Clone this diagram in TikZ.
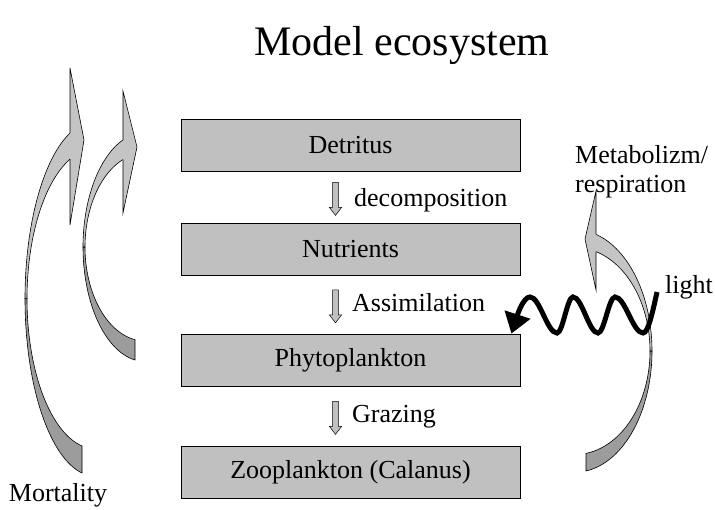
\documentclass[tikz,border=0pt]{standalone}
\usepackage{fontspec}
\setmainfont{Liberation Serif}
\usetikzlibrary{arrows.meta,shapes.arrows}
\definecolor{boxgray}{HTML}{C0C0C0}
\definecolor{bandlight}{HTML}{C4C4C4}
\definecolor{banddark}{HTML}{9C9C9C}
\tikzset{
    compartment/.style={draw=black, line width=0.8pt, fill=boxgray, minimum width=339pt, minimum height=52pt, inner sep=0pt, font=\fontsize{26}{30}\selectfont},
    flowarrow/.style={single arrow, draw=black, line width=0.5pt, fill=boxgray, rotate=-90, minimum height=33pt, inner xsep=0pt, inner ysep=2.6pt, single arrow head extend=3.2pt, single arrow tip angle=75},
    lbl/.style={font=\fontsize{26}{29}\selectfont, inner sep=0pt, anchor=west},
    lightpart/.style={fill=bandlight, draw=black, line width=0.6pt, samples=60},
    darkpart/.style={fill=banddark, draw=black, line width=0.6pt, samples=60},
    lightwave/.style={line width=5pt, -{Triangle[length=20pt,width=26pt]}}
}

\begin{document}
\begin{tikzpicture}[x=1pt,y=-1pt]
\useasboundingbox (0,0) rectangle (715,510);

\node [font=\fontsize{42}{48}\selectfont] (title) at (402,45) {Model ecosystem};

% compartments
\node [compartment] (detritus) at (350.5,145) {Detritus};
\node [compartment] (nutrients) at (350.5,249) {Nutrients};
\node [compartment] (phyto) at (350.5,360) {Phytoplankton};
\node [compartment] (zoo) at (350.5,472) {Zooplankton (Calanus)};

\path (detritus.south) -- (nutrients.north) node [pos=0.5, xshift=-15pt, flowarrow] (decarrow) {};
\path (nutrients.south) -- (phyto.north) node [pos=0.5, xshift=-15pt, flowarrow] (assarrow) {};
\path (phyto.south) -- (zoo.north) node [pos=0.5, xshift=-15pt, flowarrow] (grazarrow) {};
\node [lbl] (decomp) at (354,200) {decomposition};
\node [lbl] (assim) at (352,303) {Assimilation};
\node [lbl] (grazing) at (352,417) {Grazing};

% mortality arrows (left)
\filldraw [darkpart] plot[domain=180:100.7] ({95+70*cos(\x)},{298.7+177.4*sin(\x)}) -- plot[domain=100.98:180] ({95+68*cos(\x)},{298.7+150*sin(\x)}) -- cycle;
\filldraw [lightpart] plot[domain=248.43:180] ({95+68*cos(\x)},{298.7+150*sin(\x)}) -- plot[domain=180:249.08] ({95+70*cos(\x)},{298.7+177.4*sin(\x)});
\filldraw [lightpart] (70,133) -- (70,68) -- (84,140) -- (70,225) -- (70,159.2);

\filldraw [darkpart] plot[domain=180:99.28] ({145+62*cos(\x)},{247+114.5*sin(\x)}) -- plot[domain=99.59:180] ({145+60*cos(\x)},{247+94*sin(\x)}) -- cycle;
\filldraw [lightpart] plot[domain=248.49:180] ({145+60*cos(\x)},{247+94*sin(\x)}) -- plot[domain=180:249.22] ({145+62*cos(\x)},{247+114.5*sin(\x)});
\filldraw [lightpart] (123,139.9) -- (123,91) -- (137,147) -- (123,213) -- (123,159.6);

\node [lbl, anchor=center] (mortality) at (58,495) {Mortality};

% metabolism arrow (right)
\filldraw [darkpart] plot[domain=0:81.79] ({575+77*cos(\x)},{351+121.2*sin(\x)}) -- plot[domain=81.57:0] ({575+75*cos(\x)},{351+103.5*sin(\x)}) -- cycle;
\filldraw [lightpart] plot[domain=-73.74:0] ({575+75*cos(\x)},{351+103.5*sin(\x)}) -- plot[domain=0:-74.17] ({575+77*cos(\x)},{351+121.2*sin(\x)});
\filldraw [lightpart] (596,234.4) -- (596,191) -- (585,239) -- (596,290) -- (596,251.6);

\node [lbl, align=left] (metab) at (575,172) {Metabolizm/\\respiration};
\node [lbl] (light) at (665,287) {light};

% light
\coordinate (lightsrc) at (657,292);
\draw [lightwave] (lightsrc) sin (643,333) cos (629,315) sin (615,297) cos (606.5,315) sin (598,333) cos (585.5,315) sin (573,297) cos (565,315) sin (557,333) cos (543.5,315) sin (530,297) cos ([xshift=-9pt]phyto.north east);

\end{tikzpicture}
\end{document}
